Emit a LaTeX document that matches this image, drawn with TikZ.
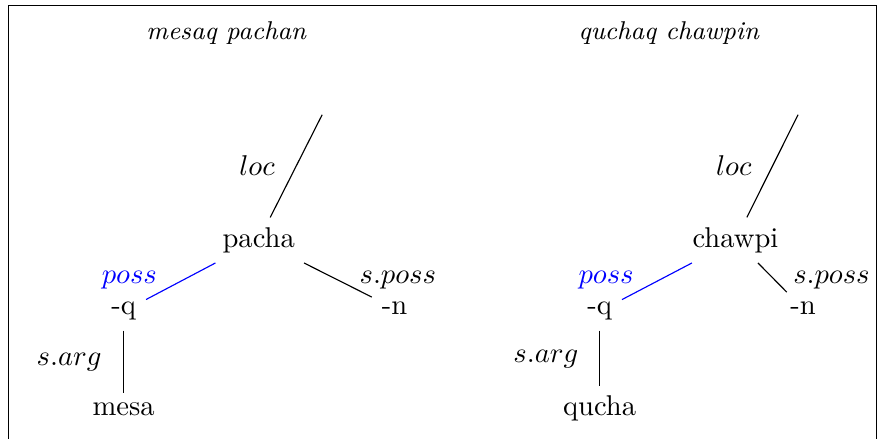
\documentclass[tikz,border=0pt]{standalone}
\begin{document}
\begin{tikzpicture}[
  word/.style={anchor=base},
  title/.style={anchor=base, font=\small\itshape},
  lbl/.style={anchor=base},
  line/.style={black},
  poss/.style={blue}
]
  \useasboundingbox (0,0) rectangle (10.78,-5.395);
  \draw (0.10,-0.07) rectangle (10.77,-5.8);

  % Titles
  \node[title] (tA) at (2.78,-0.49) {mesaq pachan};
  \node[title] (tB) at (8.22,-0.49) {quchaq chawpin};

  % mesaq pachan
  \coordinate (topA) at (3.96,-1.41);
  \node[word] (pacha) at (3.18,-3.04) {pacha};
  \node[word] (qA) at (1.52,-3.87) {-q};
  \node[word] (nA) at (4.85,-3.87) {-n};
  \node[word] (mesa) at (1.52,-5.11) {mesa};
  \node[lbl] (locA) at (3.16,-2.16) {$loc$};
  \node[lbl, poss] (possA) at (1.59,-3.48) {$poss$};
  \node[lbl] (spossA) at (4.89,-3.48) {$s.poss$};
  \node[lbl] (sargA) at (0.85,-4.49) {$s.arg$};
  \draw[line] (pacha) -- (topA);
  \draw[line, poss] (pacha) -- (qA);
  \draw[line] (pacha) -- (nA);
  \draw[line] (qA) -- (mesa);

  % quchaq chawpin
  \coordinate (topB) at (9.81,-1.41);
  \node[word] (chawpi) at (9.04,-3.04) {chawpi};
  \node[word] (qB) at (7.37,-3.87) {-q};
  \node[word] (nB) at (9.87,-3.87) {-n};
  \node[word] (qucha) at (7.37,-5.11) {qucha};
  \node[lbl] (locB) at (9.02,-2.16) {$loc$};
  \node[lbl, poss] (possB) at (7.45,-3.48) {$poss$};
  \node[lbl] (spossB) at (10.22,-3.48) {$s.poss$};
  \node[lbl] (sargB) at (6.71,-4.45) {$s.arg$};
  \draw[line] (chawpi) -- (topB);
  \draw[line, poss] (chawpi) -- (qB);
  \draw[line] (chawpi) -- (nB);
  \draw[line] (qB) -- (qucha);
\end{tikzpicture}
\end{document}
